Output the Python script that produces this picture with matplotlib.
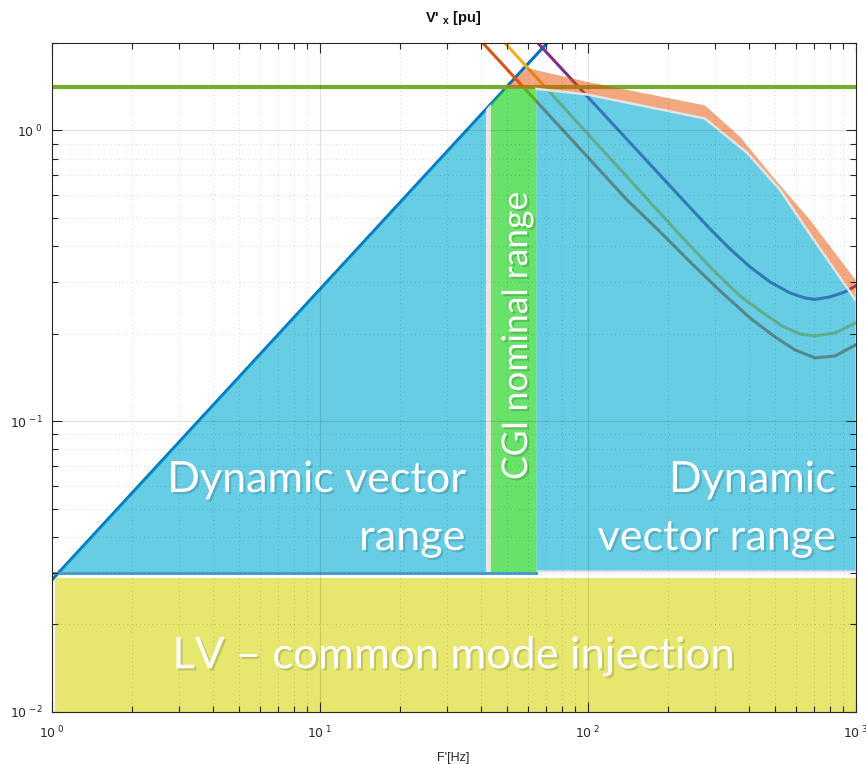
import matplotlib
matplotlib.use("Agg")
import matplotlib.pyplot as plt
import matplotlib.patheffects as pe
from matplotlib.ticker import LogLocator, FuncFormatter, NullFormatter

# ---- data ----
rise_f = [1.0, 70.0]
rise_v = [0.0283, 1.98]

limit_f = [1.0, 1000.0]
limit_v = [1.41, 1.41]

floor_f = [1.0, 64.5]
floor_v = [0.03, 0.03]

red_f = [40.7, 140.4, 186.6, 241.5, 312.6, 403.9, 500.9, 594.8, 705.8, 838, 1000]
red_v = [2.00, 0.577, 0.448, 0.353, 0.2805, 0.2265, 0.1948, 0.1757, 0.1649, 0.1675, 0.1828]
yel_f = [49.2, 168.2, 221.4, 293.9, 370.4, 451.6, 531.7, 620.4, 705.8, 838, 1000]
yel_v = [2.00, 0.577, 0.4372, 0.3313, 0.2697, 0.2357, 0.2126, 0.1995, 0.1963, 0.2011, 0.2176]
pur_f = [65.3, 227, 286.6, 340.2, 403.9, 479.5, 569.2, 647.4, 705.8, 803.5, 914, 1000]
pur_v = [2.00, 0.577, 0.4586, 0.3914, 0.3394, 0.3013, 0.2761, 0.2653, 0.2622, 0.2675, 0.2783, 0.2918]

dyn_left_f = [1.06, 41.8, 41.8]
dyn_left_v = [0.03, 1.18, 0.03]

gap_f = [41.8, 41.8, 43.6, 43.6]
gap_v = [0.03, 1.18, 1.234, 0.03]

top_f = [64.5, 99.6, 274, 394, 523, 659, 1000]
top_v = [1.39, 1.33, 1.10, 0.838, 0.625, 0.455, 0.261]

orange_f = [50.0, 59.5, 99.6, 274, 371, 492, 677, 1000]
orange_v = [1.41, 1.64, 1.47, 1.22, 0.951, 0.692, 0.492, 0.306]

cgi_f = [43.6, 43.6, 50.0, 64.5, 64.5]
cgi_v = [0.03, 1.234, 1.41, 1.41, 0.03]

lv_f = [1.03, 1000]
lv_lo = [0.01, 0.01]
lv_hi = [0.0288, 0.0288]

plt.rcParams['mathtext.fontset'] = 'custom'
plt.rcParams['mathtext.rm'] = 'Liberation Sans'
plt.rcParams['mathtext.bf'] = 'Liberation Sans:bold'

fig = plt.figure(figsize=(8.66, 7.64), dpi=100)
ax = fig.add_axes([51.5 / 866, 1 - 711.7 / 764, 804 / 866, 668.7 / 764])
ax.set_xscale('log')
ax.set_yscale('log')
ax.set_xlim(1, 1000)
ax.set_ylim(0.01, 2.0)

# curves (drawn below the translucent areas)
ax.plot(rise_f, rise_v, color='#0072BD', lw=2.2, zorder=1)
ax.plot(red_f, red_v, color='#D95319', lw=2.2, zorder=1)
ax.plot(yel_f, yel_v, color='#EDB120', lw=2.2, zorder=1)
ax.plot(pur_f, pur_v, color='#7E2F8E', lw=2.2, zorder=1)

# areas
ax.fill_between(lv_f, lv_lo, lv_hi, color='#E7E76F', lw=0, zorder=1.2)
blue = (0.0, 172 / 255, 213 / 255)
ax.fill(dyn_left_f, dyn_left_v, color=blue, alpha=0.6, lw=0, zorder=1.3)
ax.fill(gap_f, gap_v, color='#e8e8e8', lw=0, zorder=1.3)
ax.fill(list(top_f) + [1000, 64.5], list(top_v) + [0.0305, 0.0305],
        facecolor=blue, alpha=0.6, edgecolor='none', zorder=1.3)
ax.plot([64.5, 1000], [0.0305, 0.0305], color='#d8d8d8', lw=1.2, zorder=1.35)
ax.fill(cgi_f, cgi_v, color=(40 / 255, 215 / 255, 40 / 255), alpha=0.7, lw=0, zorder=1.4)
ax.plot(floor_f, floor_v, color='#4a9ed2', lw=2.2, zorder=1.45)
ax.plot(limit_f, limit_v, color='#77AC30', lw=3, zorder=1.5)
ax.fill(orange_f + top_f[::-1], orange_v + top_v[::-1],
        color=(230 / 255, 80 / 255, 0.0), alpha=0.5, lw=0, zorder=1.6)
ax.plot(top_f, top_v, color='#e4e4e4', lw=1.8, zorder=1.7)

# labels inside
shadow = [pe.SimplePatchShadow(offset=(1.5, -1.5), shadow_rgbFace='k', alpha=0.15), pe.Normal()]
tkw = dict(color='white', fontsize=31, family='Lato', zorder=3, path_effects=shadow)
ax.text(34.9, 0.057, 'Dynamic vector', ha='right', va='baseline', **tkw)
ax.text(34.9, 0.036, 'range', ha='right', va='baseline', **tkw)
ax.text(839, 0.057, 'Dynamic', ha='right', va='baseline', **tkw)
ax.text(839, 0.036, 'vector range', ha='right', va='baseline', **tkw)
tkw['fontsize'] = 25.5
ax.text(54.6, 0.196, 'CGI nominal range', ha='center', va='center', rotation=90, **tkw)
tkw['fontsize'] = 31.5
ax.text(31.8, 0.0141, 'LV \u2013 common mode injection', ha='center', va='baseline', **tkw)


# axes styling (matlab-like)
def fmt(v, pos):
    import math
    e = int(round(math.log10(v)))
    return r'$\mathregular{10^{\ {%d}}}$' % e


ax.xaxis.set_major_locator(LogLocator(base=10, numticks=10))
ax.yaxis.set_major_locator(LogLocator(base=10, numticks=10))
ax.xaxis.set_major_formatter(FuncFormatter(fmt))
ax.yaxis.set_major_formatter(FuncFormatter(fmt))
ax.xaxis.set_minor_formatter(NullFormatter())
ax.yaxis.set_minor_formatter(NullFormatter())
ax.tick_params(which='both', direction='in', top=True, right=True, colors='#262626',
               labelsize=9, width=0.8)
ax.tick_params(which='major', length=7)
ax.tick_params(axis='x', which='major', pad=9)
ax.tick_params(axis='y', which='major', pad=6)
ax.tick_params(which='minor', length=4)
for s in ax.spines.values():
    s.set_color('#262626')
    s.set_linewidth(0.8)
    s.set_zorder(4)

ax.set_axisbelow(False)
ax.grid(which='major', color='k', alpha=0.12, lw=0.8, ls='-')
ax.grid(which='minor', color='k', alpha=0.22, lw=0.6, ls=(0, (1, 4)))

ax.set_title(r"V' $_{\mathbf{x}}$ [pu]", fontsize=10.5, fontweight='bold',
             family='Liberation Sans', color='#111111', pad=15)
ax.set_xlabel("F'[Hz]", fontsize=9, color='#262626', family='Liberation Sans', labelpad=8)

fig.savefig('out.png', dpi=100)
